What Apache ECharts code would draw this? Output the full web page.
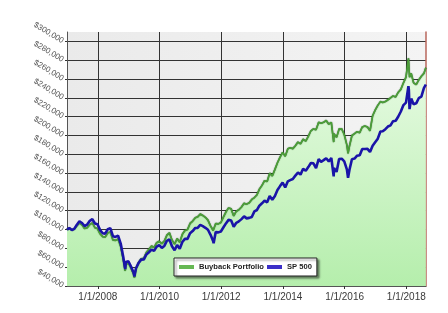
<!DOCTYPE html>
<html><head><meta charset="utf-8">
<script src="https://cdn.jsdelivr.net/npm/echarts@6/dist/echarts.min.js"></script>
<style>html,body{margin:0;padding:0;background:#fff}#c{width:448px;height:313px}</style>
</head><body><div id="c"></div><script>
const dates = [
'2007-01-01','2007-01-28','2007-02-28','2007-03-28','2007-04-28','2007-05-28','2007-06-28','2007-07-28','2007-08-28','2007-09-28','2007-10-28','2007-11-28','2007-12-28',
'2008-01-28','2008-02-28','2008-03-28','2008-04-28','2008-05-28','2008-06-28','2008-07-28','2008-08-28','2008-09-28','2008-10-28','2008-11-20','2008-11-28','2008-12-28',
'2009-01-28','2009-02-28','2009-03-09','2009-03-28','2009-04-28','2009-05-28','2009-06-28','2009-07-28','2009-08-28','2009-09-28','2009-10-28','2009-11-28','2009-12-28',
'2010-01-28','2010-02-28','2010-03-28','2010-04-28','2010-05-28','2010-06-28','2010-07-28','2010-08-28','2010-09-28','2010-10-28','2010-11-28','2010-12-28',
'2011-01-28','2011-02-28','2011-03-28','2011-04-28','2011-05-28','2011-06-28','2011-07-28','2011-08-28','2011-09-28','2011-10-03','2011-10-28','2011-11-28','2011-12-28',
'2012-01-28','2012-02-28','2012-03-28','2012-04-28','2012-05-28','2012-06-28','2012-07-28','2012-08-28','2012-09-28','2012-10-28','2012-11-28','2012-12-28',
'2013-01-28','2013-02-28','2013-03-28','2013-04-28','2013-05-28','2013-06-28','2013-07-28','2013-08-28','2013-09-28','2013-10-28','2013-11-28','2013-12-28',
'2014-01-28','2014-02-28','2014-03-28','2014-04-28','2014-05-28','2014-06-28','2014-07-28','2014-08-28','2014-09-28','2014-10-28','2014-11-28','2014-12-28',
'2015-01-28','2015-02-28','2015-03-28','2015-04-28','2015-05-28','2015-06-28','2015-07-28','2015-08-25','2015-08-28','2015-09-28','2015-10-28','2015-11-28','2015-12-28',
'2016-01-28','2016-02-11','2016-02-28','2016-03-28','2016-04-28','2016-05-28','2016-06-28','2016-07-28','2016-08-28','2016-09-28','2016-10-28','2016-11-28','2016-12-28',
'2017-01-28','2017-02-28','2017-03-28','2017-04-28','2017-05-28','2017-06-28','2017-07-28','2017-08-28','2017-09-28','2017-10-28','2017-11-28','2017-12-28',
'2018-01-26','2018-01-31','2018-02-08','2018-02-28','2018-03-28','2018-04-28','2018-05-28','2018-06-28','2018-07-28','2018-08-20'
];
const buyback = [
100000,101500,99500,100500,104000,107000,105000,101000,102000,105500,107000,102000,101000,
95500,92500,92000,96500,97500,89000,88500,90000,82000,68500,56000,63000,64500,
59000,52500,49000,58500,65000,69000,69500,75500,79000,82500,81000,86000,87500,
85000,88000,94000,96500,89000,84500,90500,86500,95000,99000,100000,106500,
109000,112500,113500,116500,115000,113000,110000,104000,99000,97000,106500,106000,107500,
113500,119000,123000,122000,114500,119500,121000,124000,128000,127000,128500,132000,
134000,137000,143000,147000,152000,151000,160000,157000,164000,171000,177000,182000,
178000,186000,187000,186000,189000,193000,191000,196000,194000,199000,205000,207000,
206000,214000,213000,214000,216000,212000,214000,193000,202000,198000,207000,207000,201000,
190000,181000,189000,200000,202000,204000,203000,209000,210000,209000,205000,221000,227000,
232000,236000,235000,236000,238000,240000,242000,241000,246000,249000,256000,262000,
282000,275000,262000,266000,256000,254000,259000,263000,266000,272000
];
const sp500 = [
100000,101600,99500,100700,105200,108800,107000,103800,105300,109300,111000,106400,105600,
99400,96100,95600,100400,101500,93000,92200,93500,85100,70900,58000,65600,66300,
60700,54100,50000,58900,64500,68000,68100,73300,75900,78700,77300,81900,83500,
80500,82900,88000,89500,82200,78000,83500,79600,86700,90100,90100,96100,
98400,101700,101800,104900,103600,101900,99800,94400,87700,85500,97300,97000,98000,
102400,106800,110300,109700,102900,107200,108700,111100,114000,111900,112400,113400,
119300,120800,125400,127900,130700,129000,135600,131600,135700,142000,146200,149900,
144800,151300,152600,153800,157300,160600,158400,164600,162400,166400,170800,170400,
165300,174800,172000,173800,175800,172400,176100,156500,165400,161300,174900,175300,172500,
164000,155000,163600,174800,175500,178500,179000,185700,185700,185800,182500,189100,192800,
196600,204300,204500,206700,209500,210800,215200,215700,220200,225500,232300,234900,
252500,248500,228000,239200,233200,234200,239600,241200,250300,254200
];
const seriesNames = ['Buyback Portfolio', 'SP 500'];
const xTickDates = ['2008-01-01','2010-01-01','2012-01-01','2014-01-01','2016-01-01','2018-01-01'];
const xRange = ['2007-01-01', '2018-08-22'];
const yMin = 40000, yMax = 310000, yStep = 20000;

function toTime(s) { const p = s.split('-').map(Number); return new Date(p[0], p[1]-1, p[2]).getTime(); }
function money(v) { return '$' + String(Math.round(v)).replace(/\B(?=(\d{3})+(?!\d))/g, ','); }
function dateLabel(v) { const d = new Date(v); return (d.getMonth()+1) + '/' + d.getDate() + '/' + d.getFullYear(); }
const xTicks = xTickDates.map(toTime);

const chart = echarts.init(document.getElementById('c'), null, {renderer: 'canvas'});
chart.setOption({
  animation: false,
  textStyle: {fontFamily: 'Liberation Sans, Arial, sans-serif'},
  grid: {left: 67, right: 22, top: 32, bottom: 27, show: true, borderWidth: 0,
    backgroundColor: new echarts.graphic.LinearGradient(0, 0, 1, 0, [{offset: 0, color: '#eaeaea'}, {offset: 1, color: '#f4f4f4'}])},
  legend: {
    left: 174, top: 258, orient: 'horizontal', data: seriesNames,
    backgroundColor: '#fff', borderColor: '#222', borderWidth: 1, borderRadius: 0,
    padding: [5, 5], itemGap: 3, itemWidth: 15, itemHeight: 4, icon: 'rect',
    shadowColor: 'rgba(0,0,0,0.45)', shadowOffsetX: 2, shadowOffsetY: 2, shadowBlur: 2,
    textStyle: {fontSize: 7.6, fontWeight: 'bold', color: '#222', fontFamily: 'Liberation Sans, Arial, sans-serif'}
  },
  xAxis: {
    type: 'value', min: toTime(xRange[0]), max: toTime(xRange[1]), scale: true,
    axisLine: {show: true, lineStyle: {color: '#555', width: 1}},
    axisTick: {show: true, customValues: xTicks, length: 3, lineStyle: {color: '#333'}},
    axisLabel: {customValues: xTicks, fontSize: 10, color: '#3a3a3a', margin: 6, hideOverlap: false, formatter: dateLabel},
    splitLine: {show: true, lineStyle: {color: '#333', width: 1}}
  },
  yAxis: [{
    type: 'value', min: yMin, max: yMax, interval: yStep,
    axisLine: {show: true, lineStyle: {color: '#555', width: 1}},
    axisTick: {show: true, length: 2, lineStyle: {color: '#333'}},
    axisLabel: {rotate: -31, fontSize: 8, color: '#555', margin: 4, showMaxLabel: false, formatter: money},
    splitLine: {show: true, showMaxLine: false, lineStyle: {color: '#333', width: 1}}
  }, {
    type: 'value', position: 'right', min: yMin, max: yMax,
    axisLine: {show: true, lineStyle: {color: '#b8675c', width: 1.5}},
    axisTick: {show: false}, axisLabel: {show: false}, splitLine: {show: false}
  }],
  series: [{
    name: seriesNames[0], type: 'line', showSymbol: false, z: 2,
    data: dates.map((d, i) => [toTime(d), buyback[i]]),
    itemStyle: {color: '#66b854'},
    lineStyle: {color: '#4c9e38', width: 1.6, shadowColor: 'rgba(10,70,10,0.9)', shadowBlur: 1},
    areaStyle: {color: new echarts.graphic.LinearGradient(0, 0, 0, 1, [{offset: 0, color: '#e8fbe4'}, {offset: 1, color: '#b5eeac'}]), opacity: 1}
  }, {
    name: seriesNames[1], type: 'line', showSymbol: false, z: 3,
    data: dates.map((d, i) => [toTime(d), sp500[i]]),
    itemStyle: {color: '#3b2fc8'},
    lineStyle: {color: '#1a14a8', width: 2.6}
  }]
});
</script></body></html>
